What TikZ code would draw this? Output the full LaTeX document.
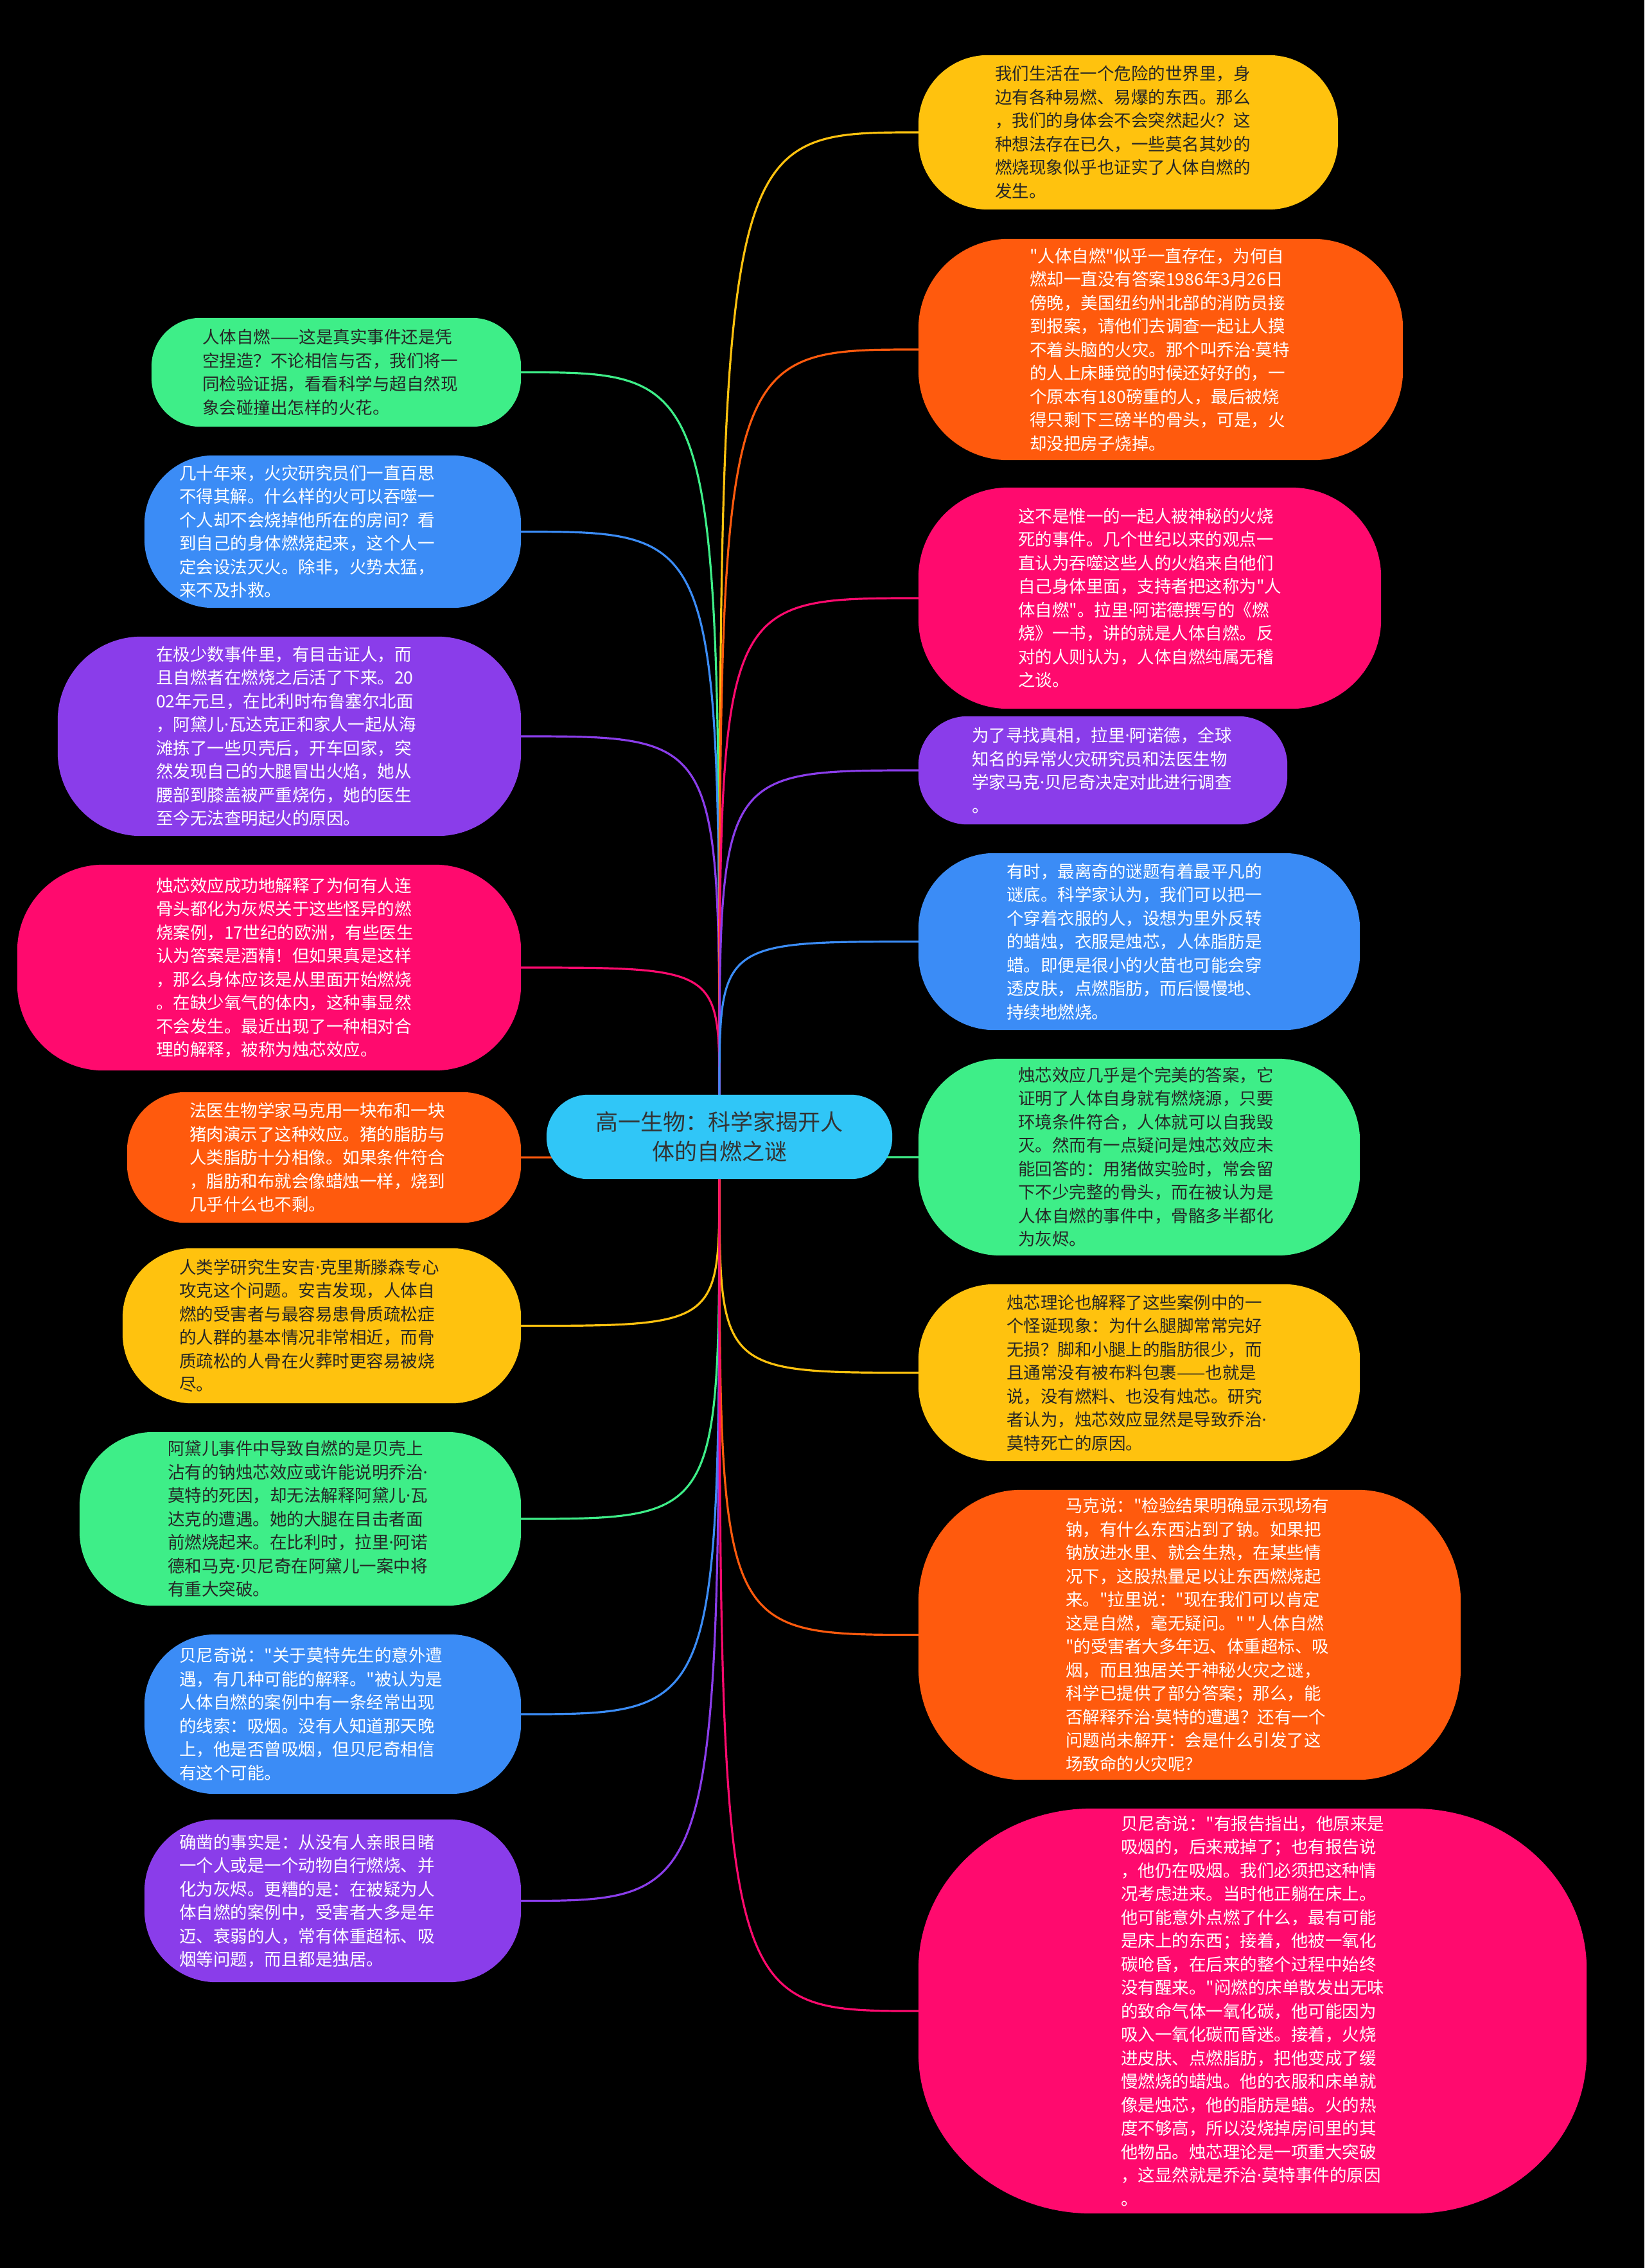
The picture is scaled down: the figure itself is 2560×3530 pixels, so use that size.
\documentclass[tikz,border=0pt]{standalone}
\usepackage{fontspec}
\setmainfont{Noto Sans CJK SC}
\newfontfamily\cjk{Noto Sans CJK SC}
\newfontfamily\dotf{Noto Sans}
\newcommand\md{{\dotf ·}}
\usetikzlibrary{backgrounds,calc}
\definecolor{cgreen}{HTML}{3EEE88}
\definecolor{cblue}{HTML}{3B8CF6}
\definecolor{cpurple}{HTML}{8A3DEA}
\definecolor{cpink}{HTML}{FF0A6E}
\definecolor{corange}{HTML}{FF5A0D}
\definecolor{cyellow}{HTML}{FFC20E}
\definecolor{ccyan}{HTML}{30C6F7}
\definecolor{dtext}{HTML}{262626}
\definecolor{rtext}{HTML}{333333}
\tikzset{
  bubnode/.style={inner sep=0pt, shape=rectangle},
  txt/.style={inner sep=0pt, align=left, font=\cjk\fontsize{26.5}{36.5}\selectfont},
  conn/.style={line width=3.2pt},
}
\newcommand\topic[8]{%
  \node[bubnode, minimum width=#4pt, minimum height=#5pt] (#1) at (#2,#3) {};
  \node[txt, #7, anchor=west] (#1t) at (#6,#3) {#8};
}
\newcommand\bub[4]{%
  \fill[#4] let \p1=(#1.north west), \p2=(#1.south east) in
    (\x1+#2pt,\y1) -- (\x2-#2pt,\y1)
    arc[start angle=90,end angle=0,x radius=#2pt,y radius=#3pt]
    -- (\x2,\y2+#3pt)
    arc[start angle=0,end angle=-90,x radius=#2pt,y radius=#3pt]
    -- (\x1+#2pt,\y2)
    arc[start angle=-90,end angle=-180,x radius=#2pt,y radius=#3pt]
    -- (\x1,\y1-#3pt)
    arc[start angle=180,end angle=90,x radius=#2pt,y radius=#3pt]
    -- cycle;
}
\begin{document}
\begin{tikzpicture}[x=1pt,y=-1pt]
\useasboundingbox (0,0) rectangle (2560,3530);

% root
\node[bubnode, minimum width=538pt, minimum height=131pt, align=center,
      font=\cjk\fontsize{35}{46}\selectfont, text=rtext] (root) at (1120,1769.5) {高一生物：科学家揭开人\\体的自燃之谜};

% left topics
\topic{L1}{523.5}{579.5}{575}{169}{315}{text=dtext}{人体自燃——这是真实事件还是凭\\空捏造？不论相信与否，我们将一\\同检验证据，看看科学与超自然现\\象会碰撞出怎样的火花。}
\topic{L2}{518}{827.5}{586}{237}{279}{text=white}{几十年来，火灾研究员们一直百思\\不得其解。什么样的火可以吞噬一\\个人却不会烧掉他所在的房间？看\\到自己的身体燃烧起来，这个人一\\定会设法灭火。除非，火势太猛，\\来不及扑救。}
\topic{L3}{450.5}{1146}{721}{310}{243}{text=white}{在极少数事件里，有目击证人，而\\且自燃者在燃烧之后活了下来。20\\02年元旦，在比利时布鲁塞尔北面\\，阿黛儿\md{}瓦达克正和家人一起从海\\滩拣了一些贝壳后，开车回家，突\\然发现自己的大腿冒出火焰，她从\\腰部到膝盖被严重烧伤，她的医生\\至今无法查明起火的原因。}
\topic{L4}{419}{1506}{784}{320}{243}{text=white}{烛芯效应成功地解释了为何有人连\\骨头都化为灰烬关于这些怪异的燃\\烧案例，17世纪的欧洲，有些医生\\认为答案是酒精！但如果真是这样\\，那么身体应该是从里面开始燃烧\\。在缺少氧气的体内，这种事显然\\不会发生。最近出现了一种相对合\\理的解释，被称为烛芯效应。}
\topic{L5}{504.5}{1801.5}{613}{203}{295}{text=white}{法医生物学家马克用一块布和一块\\猪肉演示了这种效应。猪的脂肪与\\人类脂肪十分相像。如果条件符合\\，脂肪和布就会像蜡烛一样，烧到\\几乎什么也不剩。}
\topic{L6}{501}{2063.5}{620}{241}{279}{text=dtext}{人类学研究生安吉\md{}克里斯滕森专心\\攻克这个问题。安吉发现，人体自\\燃的受害者与最容易患骨质疏松症\\的人群的基本情况非常相近，而骨\\质疏松的人骨在火葬时更容易被烧\\尽。}
\topic{L7}{467.5}{2364}{687}{270}{261}{text=dtext}{阿黛儿事件中导致自燃的是贝壳上\\沾有的钠烛芯效应或许能说明乔治\md{}\\莫特的死因，却无法解释阿黛儿\md{}瓦\\达克的遭遇。她的大腿在目击者面\\前燃烧起来。在比利时，拉里\md{}阿诺\\德和马克\md{}贝尼奇在阿黛儿一案中将\\有重大突破。}
\topic{L8}{518}{2668}{586}{248}{279}{text=white}{贝尼奇说："关于莫特先生的意外遭\\遇，有几种可能的解释。"被认为是\\人体自燃的案例中有一条经常出现\\的线索：吸烟。没有人知道那天晚\\上，他是否曾吸烟，但贝尼奇相信\\有这个可能。}
\topic{L9}{518}{2958.5}{586}{253}{279}{text=white}{确凿的事实是：从没有人亲眼目睹\\一个人或是一个动物自行燃烧、并\\化为灰烬。更糟的是：在被疑为人\\体自燃的案例中，受害者大多是年\\迈、衰弱的人，常有体重超标、吸\\烟等问题，而且都是独居。}

% right topics
\topic{R1}{1756.5}{206}{653}{240}{1549}{text=dtext}{我们生活在一个危险的世界里，身\\边有各种易燃、易爆的东西。那么\\，我们的身体会不会突然起火？这\\种想法存在已久，一些莫名其妙的\\燃烧现象似乎也证实了人体自燃的\\发生。}
\topic{R2}{1807}{544}{754}{344}{1603}{text=white}{"人体自燃"似乎一直存在，为何自\\燃却一直没有答案1986年3月26日\\傍晚，美国纽约州北部的消防员接\\到报案，请他们去调查一起让人摸\\不着头脑的火灾。那个叫乔治\md{}莫特\\的人上床睡觉的时候还好好的，一\\个原本有180磅重的人，最后被烧\\得只剩下三磅半的骨头，可是，火\\却没把房子烧掉。}
\topic{R3}{1790}{931}{720}{344}{1585}{text=white}{这不是惟一的一起人被神秘的火烧\\死的事件。几个世纪以来的观点一\\直认为吞噬这些人的火焰来自他们\\自己身体里面，支持者把这称为"人\\体自燃"。拉里\md{}阿诺德撰写的《燃\\烧》一书，讲的就是人体自燃。反\\对的人则认为，人体自燃纯属无稽\\之谈。}
\topic{R4}{1717}{1199}{574}{168}{1513}{text=white}{为了寻找真相，拉里\md{}阿诺德，全球\\知名的异常火灾研究员和法医生物\\学家马克\md{}贝尼奇决定对此进行调查\\。}
\topic{R5}{1773.5}{1465.5}{687}{275}{1567}{text=white}{有时，最离奇的谜题有着最平凡的\\谜底。科学家认为，我们可以把一\\个穿着衣服的人，设想为里外反转\\的蜡烛，衣服是烛芯，人体脂肪是\\蜡。即便是很小的火苗也可能会穿\\透皮肤，点燃脂肪，而后慢慢地、\\持续地燃烧。}
\topic{R6}{1773.5}{1801}{687}{306}{1585}{text=dtext}{烛芯效应几乎是个完美的答案，它\\证明了人体自身就有燃烧源，只要\\环境条件符合，人体就可以自我毁\\灭。然而有一点疑问是烛芯效应未\\能回答的：用猪做实验时，常会留\\下不少完整的骨头，而在被认为是\\人体自燃的事件中，骨骼多半都化\\为灰烬。}
\topic{R7}{1773.5}{2136.5}{687}{275}{1567}{text=dtext}{烛芯理论也解释了这些案例中的一\\个怪诞现象：为什么腿脚常常完好\\无损？脚和小腿上的脂肪很少，而\\且通常没有被布料包裹——也就是\\说，没有燃料、也没有烛芯。研究\\者认为，烛芯效应显然是导致乔治\md{}\\莫特死亡的原因。}
\topic{R8}{1852}{2544.5}{844}{451}{1659}{text=white}{马克说："检验结果明确显示现场有\\钠，有什么东西沾到了钠。如果把\\钠放进水里、就会生热，在某些情\\况下，这股热量足以让东西燃烧起\\来。"拉里说："现在我们可以肯定\\这是自燃，毫无疑问。" "人体自燃\\"的受害者大多年迈、体重超标、吸\\烟，而且独居关于神秘火灾之谜，\\科学已提供了部分答案；那么，能\\否解释乔治\md{}莫特的遭遇？还有一个\\问题尚未解开：会是什么引发了这\\场致命的火灾呢？}
\topic{R9}{1950}{3130}{1040}{630}{1745}{text=white}{贝尼奇说："有报告指出，他原来是\\吸烟的，后来戒掉了；也有报告说\\，他仍在吸烟。我们必须把这种情\\况考虑进来。当时他正躺在床上。\\他可能意外点燃了什么，最有可能\\是床上的东西；接着，他被一氧化\\碳呛昏，在后来的整个过程中始终\\没有醒来。"闷燃的床单散发出无味\\的致命气体一氧化碳，他可能因为\\吸入一氧化碳而昏迷。接着，火烧\\进皮肤、点燃脂肪，把他变成了缓\\慢燃烧的蜡烛。他的衣服和床单就\\像是烛芯，他的脂肪是蜡。火的热\\度不够高，所以没烧掉房间里的其\\他物品。烛芯理论是一项重大突破\\，这显然就是乔治\md{}莫特事件的原因\\。}

\begin{scope}[on background layer]
  \fill[black] (0,0) rectangle (2560,3530);
  % connectors (upper)
  \draw[conn, cgreen]  (root.north) .. controls (root.north |- L1.east) .. (L1.east);
  \draw[conn, cblue]   (root.north) .. controls (root.north |- L2.east) .. (L2.east);
  \draw[conn, cpurple] (root.north) .. controls (root.north |- L3.east) .. (L3.east);
  \draw[conn, cpink]   (root.north) .. controls (root.north |- L4.east) .. (L4.east);
  \draw[conn, cyellow] (root.north) .. controls (root.north |- R1.west) .. (R1.west);
  \draw[conn, corange] (root.north) .. controls (root.north |- R2.west) .. (R2.west);
  \draw[conn, cpink]   (root.north) .. controls (root.north |- R3.west) .. (R3.west);
  \draw[conn, cpurple] (root.north) .. controls (root.north |- R4.west) .. (R4.west);
  \draw[conn, cblue]   (root.north) .. controls (root.north |- R5.west) .. (R5.west);
  % connectors (level)
  \draw[conn, corange] (root.center) .. controls (root.center |- L5.east) .. (L5.east);
  \draw[conn, cgreen]  (root.center) .. controls (root.center |- R6.west) .. (R6.west);
  % connectors (lower)
  \draw[conn, cyellow] (root.south) .. controls (root.south |- L6.east) .. (L6.east);
  \draw[conn, cgreen]  (root.south) .. controls (root.south |- L7.east) .. (L7.east);
  \draw[conn, cblue]   (root.south) .. controls (root.south |- L8.east) .. (L8.east);
  \draw[conn, cpurple] (root.south) .. controls (root.south |- L9.east) .. (L9.east);
  \draw[conn, cyellow] (root.south) .. controls (root.south |- R7.west) .. (R7.west);
  \draw[conn, corange] (root.south) .. controls (root.south |- R8.west) .. (R8.west);
  \draw[conn, cpink]   (root.south) .. controls (root.south |- R9.west) .. (R9.west);
  % bubbles
  \bub{root}{65}{65}{ccyan}
  \bub{L1}{76}{76}{cgreen}
  \bub{L2}{107}{107}{cblue}
  \bub{L3}{130}{130}{cpurple}
  \bub{L4}{134}{134}{cpink}
  \bub{L5}{91}{91}{corange}
  \bub{L6}{108}{108}{cyellow}
  \bub{L7}{115}{115}{cgreen}
  \bub{L8}{110}{110}{cblue}
  \bub{L9}{112}{112}{cpurple}
  \bub{R1}{108}{108}{cyellow}
  \bub{R2}{140}{140}{corange}
  \bub{R3}{140}{140}{cpink}
  \bub{R4}{76}{76}{cpurple}
  \bub{R5}{118}{118}{cblue}
  \bub{R6}{128}{128}{cgreen}
  \bub{R7}{118}{118}{cyellow}
  \bub{R8}{160}{175}{corange}
  \bub{R9}{270}{250}{cpink}
\end{scope}
\end{tikzpicture}
\end{document}
